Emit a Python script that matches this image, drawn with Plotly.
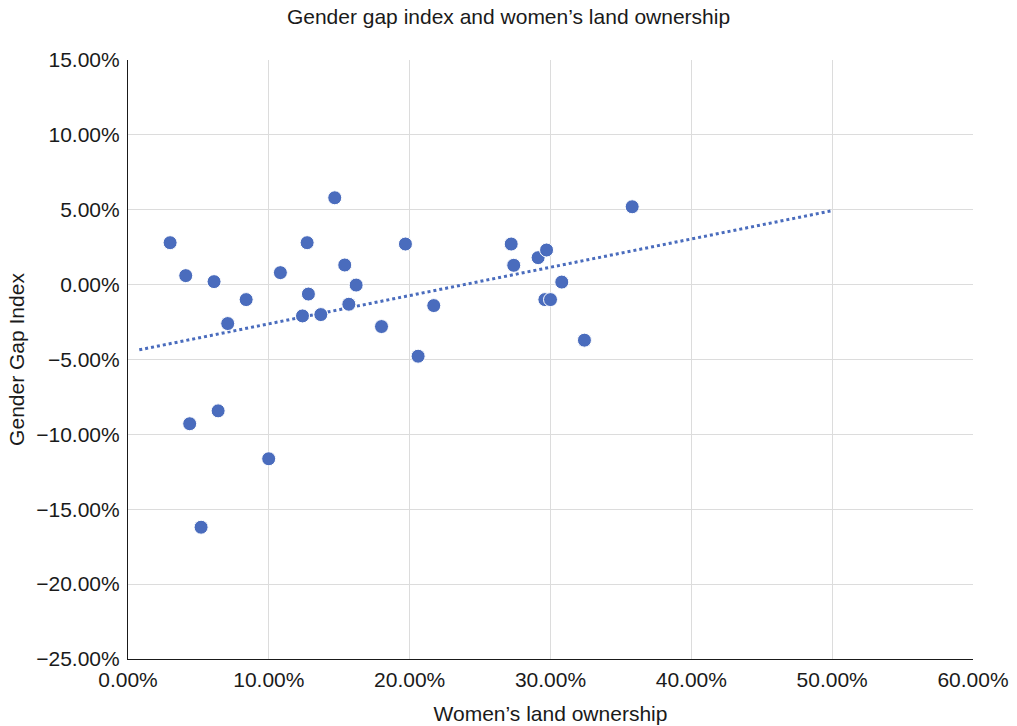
import numpy as np
import plotly.graph_objects as go

# Women's land ownership (%) and gender gap index (%) per country
land_ownership = [2.99, 4.10, 6.11, 8.39, 7.08, 4.38, 6.40, 5.19, 9.99,
                  10.82, 12.72, 14.68, 15.39, 16.20, 12.81, 12.39, 13.69,
                  15.68, 18.00, 19.70, 21.71, 20.60, 27.21, 27.39, 29.12,
                  29.72, 30.80, 29.60, 30.00, 32.41, 35.80]
gender_gap = [2.80, 0.60, 0.20, -1.00, -2.60, -9.29, -8.43, -16.20, -11.63,
              0.80, 2.80, 5.80, 1.31, -0.03, -0.63, -2.09, -2.00,
              -1.31, -2.80, 2.71, -1.40, -4.78, 2.71, 1.29, 1.80,
              2.31, 0.17, -1.00, -1.00, -3.71, 5.20]

# Span over which the linear trend is drawn
trend_x_range = [0.8, 50.0]

x_ticks = [0, 10, 20, 30, 40, 50, 60]
y_ticks = [15, 10, 5, 0, -5, -10, -15, -20, -25]


def pct_label(v):
    return f"{v:.2f}%".replace("-", "\u2212")


color = "#4a6cbd"
font_family = "Liberation Sans, Arial, Helvetica, sans-serif"

slope, intercept = np.polyfit(land_ownership, gender_gap, 1)
trend_x = np.array(trend_x_range)
trend_y = slope * trend_x + intercept

fig = go.Figure()
fig.add_trace(go.Scatter(
    x=trend_x, y=trend_y, mode="lines",
    line=dict(color=color, width=3, dash="dot"),
    hoverinfo="skip", showlegend=False,
))
fig.add_trace(go.Scatter(
    x=land_ownership, y=gender_gap, mode="markers",
    marker=dict(color=color, size=14, line=dict(color="white", width=1)),
    showlegend=False,
))

fig.update_layout(
    width=1017, height=726,
    margin=dict(l=128, r=44, t=60, b=67, autoexpand=False),
    paper_bgcolor="white", plot_bgcolor="white",
    font=dict(family=font_family, color="#1a1a1a"),
    title=dict(text="Gender gap index and women’s land ownership",
               x=0.5, xanchor="center", y=0.977, yanchor="middle",
               font=dict(size=21, color="#1a1a1a")),
)
fig.update_xaxes(
    range=[0, 60], tickvals=x_ticks, ticktext=[pct_label(v) for v in x_ticks],
    showgrid=True, gridcolor="#dcdcdc", gridwidth=1, zeroline=False,
    showline=True, linecolor="#1a1a1a", linewidth=1.2, automargin=False,
    ticks="", tickfont=dict(size=21), ticklabelstandoff=2,
    title=dict(text="Women’s land ownership", font=dict(size=21), standoff=16),
)
fig.update_yaxes(
    range=[-25, 15], tickvals=y_ticks, ticktext=[pct_label(v) for v in y_ticks],
    showgrid=True, gridcolor="#dcdcdc", gridwidth=1, zeroline=False,
    showline=True, linecolor="#1a1a1a", linewidth=1.2, automargin=False,
    ticks="", tickfont=dict(size=21), ticklabelstandoff=3,
    title=dict(text="Gender Gap Index", font=dict(size=21), standoff=5),
)

fig.write_html("out.html")
